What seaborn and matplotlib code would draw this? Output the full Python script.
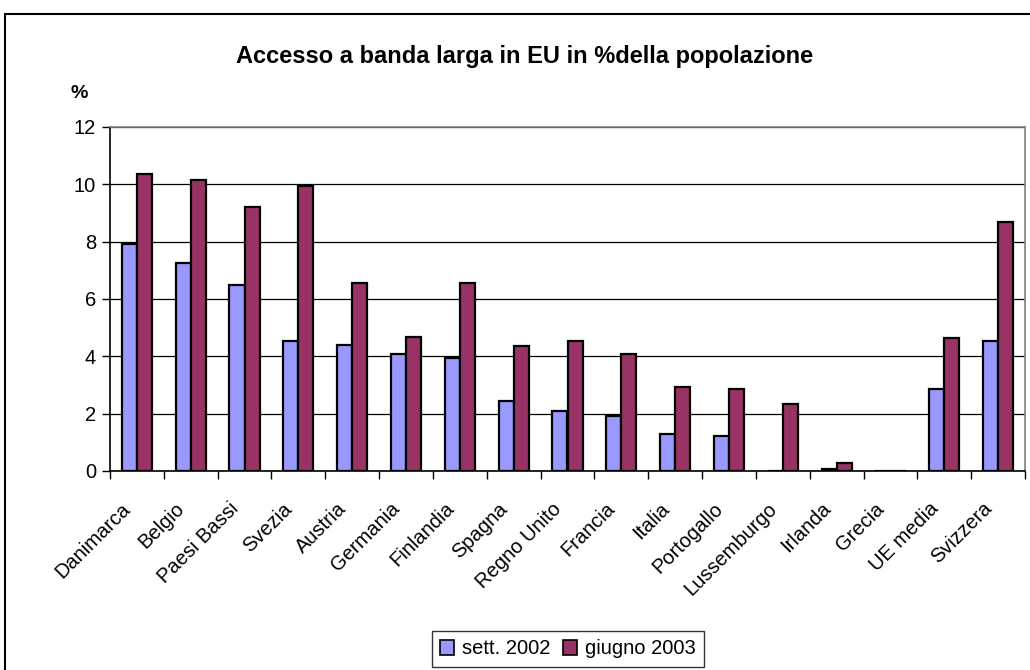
import matplotlib
matplotlib.use("Agg", force=True)
import matplotlib.pyplot as plt
import matplotlib.transforms as mtransforms
import numpy as np
import pandas as pd
import seaborn as sns
from matplotlib.patches import Rectangle, Patch

paesi = ["Danimarca", "Belgio", "Paesi Bassi", "Svezia", "Austria", "Germania",
         "Finlandia", "Spagna", "Regno Unito", "Francia", "Italia", "Portogallo",
         "Lussemburgo", "Irlanda", "Grecia", "UE media", "Svizzera"]
sett_2002 = [7.92, 7.25, 6.49, 4.53, 4.39, 4.08, 3.94, 2.44, 2.09, 1.92, 1.29, 1.22,
             0.0, 0.08, 0.0, 2.86, 4.53]
giugno_2003 = [10.36, 10.15, 9.21, 9.94, 6.56, 4.67, 6.56, 4.36, 4.53, 4.08, 2.93, 2.86,
               2.34, 0.28, 0.0, 4.64, 8.68]
periodi = ["sett. 2002", "giugno 2003"]
colori = ["#9999FF", "#993366"]

df = pd.DataFrame({
    "paese": paesi * 2,
    "valore": sett_2002 + giugno_2003,
    "periodo": [periodi[0]] * len(paesi) + [periodi[1]] * len(paesi),
})

sns.set_style("white")
plt.rcParams["font.family"] = ["Liberation Sans", "DejaVu Sans"]
plt.rcParams["text.color"] = "black"
plt.rcParams["xtick.color"] = "black"
plt.rcParams["ytick.color"] = "black"

fig = plt.figure(figsize=(10.3, 6.7), dpi=100)
ax = fig.add_axes([110 / 1030, 1 - 471 / 670, 915 / 1030, 344 / 670])

sns.barplot(data=df, x="paese", y="valore", hue="periodo", order=paesi,
            hue_order=periodi, palette=colori, width=0.56, edgecolor="black",
            linewidth=1.6, saturation=1, legend=False, ax=ax, errorbar=None)

ax.set_ylim(0, 12)
ax.set_xlim(-0.5, len(paesi) - 0.5)
ax.set_yticks(np.arange(0, 13, 2))
ax.yaxis.grid(True, color="black", linewidth=0.9)
ax.set_axisbelow(True)
ax.set_xlabel("")
ax.set_ylabel("")

ax.set_xticks(range(len(paesi)))
ax.set_xticklabels(paesi, rotation=45, ha="right", va="center", rotation_mode="anchor")
ax.set_xticks(np.arange(-0.5, len(paesi), 1), minor=True)
ax.tick_params(axis="x", which="major", length=0, pad=20, labelsize=14.5, colors="black")
ax.tick_params(axis="x", which="minor", length=6, width=1, direction="out", bottom=True,
               colors="black")
ax.tick_params(axis="y", length=6, width=1, direction="out", left=True, labelsize=14.5,
               pad=4, colors="black")

# shift the rotated labels a bit down-left, as in the original
offset = mtransforms.ScaledTranslation(-0.09, -0.07, fig.dpi_scale_trans)
for lbl in ax.get_xticklabels():
    lbl.set_transform(lbl.get_transform() + offset)

for side in ["left", "bottom"]:
    ax.spines[side].set_color("black")
    ax.spines[side].set_linewidth(1.2)
for side in ["top", "right"]:
    ax.spines[side].set_visible(True)
    ax.spines[side].set_color("#808080")
    ax.spines[side].set_linewidth(1.2)

fig.text(525 / 1030, 1 - 57 / 670, "Accesso a banda larga in EU in %della popolazione",
         ha="center", va="center", fontsize=17, fontweight="bold", color="black")
fig.text(79 / 1030, 1 - 94 / 670, "%", ha="center", va="center", fontsize=14,
         fontweight="bold", color="black")

handles = [Patch(facecolor=c, edgecolor="black", linewidth=1.2) for c in colori]
leg = fig.legend(handles, periodi, loc="center", bbox_to_anchor=(568 / 1030, 1 - 649 / 670),
                 ncol=2, frameon=True, fancybox=False, fontsize=14.5, handlelength=0.7,
                 handleheight=0.7, handletextpad=0.4, columnspacing=0.6, borderpad=0.4)
leg.get_frame().set_edgecolor("black")
leg.get_frame().set_linewidth(1)

fig.add_artist(Rectangle((5 / 1030, -0.1), 1.2, 1.1 - 14 / 670, transform=fig.transFigure,
                         fill=False, edgecolor="black", linewidth=1.5))

fig.savefig("out.png", dpi=100, facecolor="white")
